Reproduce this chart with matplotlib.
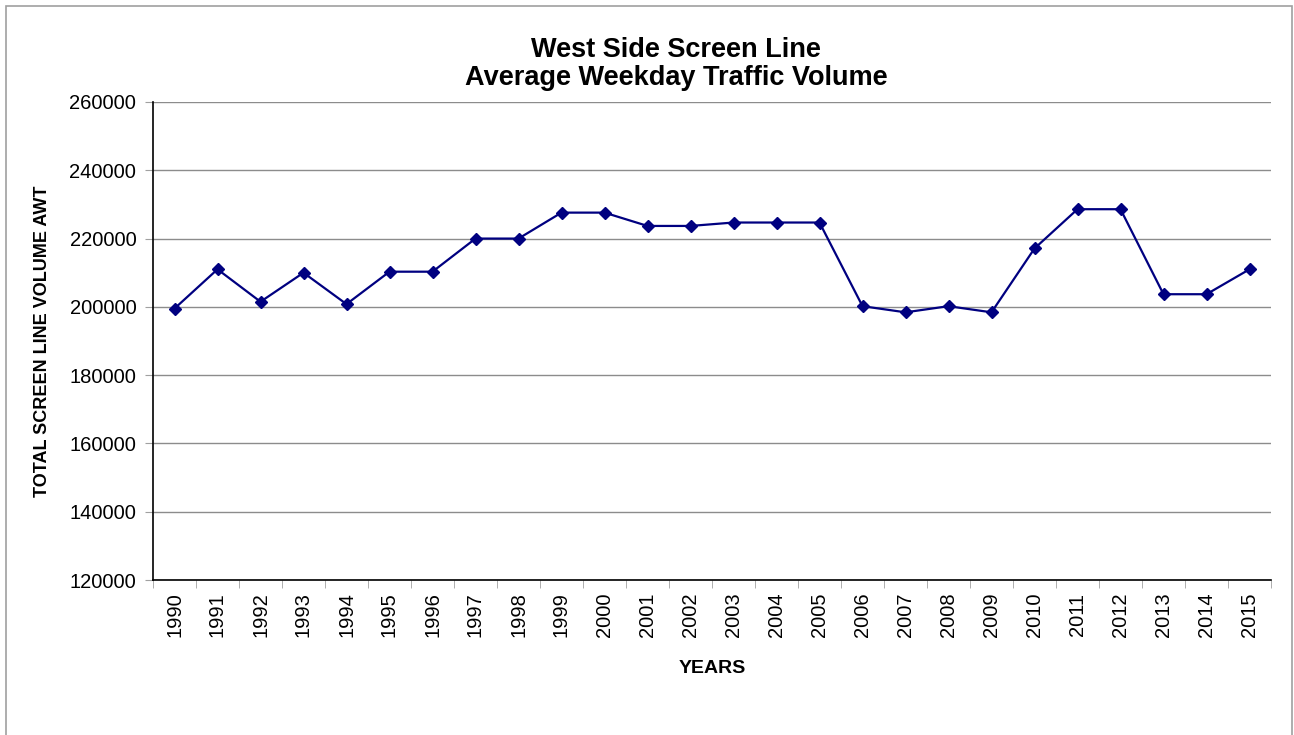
import matplotlib
matplotlib.use("Agg")
import matplotlib.pyplot as plt
from matplotlib.patches import Rectangle
import numpy as np

plt.rcParams['font.family'] = ['Liberation Sans', 'DejaVu Sans']

years = [str(y) for y in range(1990, 2016)]
volume = [199500, 211000, 201500, 210000, 200800, 210300, 210300, 220000, 220000,
          227600, 227600, 223700, 223700, 224700, 224700, 224700, 200200, 198400,
          200200, 198400, 217100, 228600, 228600, 203700, 203700, 211000]
yticks = list(range(120000, 260001, 20000))

W, H = 1294, 735
fig = plt.figure(figsize=(W / 100, H / 100), dpi=100)
ax = fig.add_axes([153 / W, 1 - 580 / H, (1271 - 153) / W, (580 - 102) / H])

# outer chart border (bottom edge falls outside the image)
fig.patches.append(Rectangle((6 / W, 1 - 745 / H), 1286 / W, 739 / H, transform=fig.transFigure,
                             fill=False, edgecolor="#a0a0a0", linewidth=1.2))

x = np.arange(len(years))
ax.plot(x, volume, color="#000080", linewidth=1.6, marker="D", markersize=6.5, zorder=3)

ax.set_xlim(-0.5, len(years) - 0.5)
ax.set_ylim(yticks[0], yticks[-1])
ax.set_yticks(yticks)
ax.set_yticklabels([str(v) for v in yticks], fontsize=14.5)
ax.set_xticks(x)
ax.set_xticklabels(years, rotation=90, fontsize=14.5)
ax.tick_params(axis="x", which="major", length=0, pad=9)
ax.set_xticks(np.arange(-0.5, len(years)), minor=True)
ax.tick_params(axis="x", which="minor", length=6, color="#a0a0a0")
ax.tick_params(axis="y", length=6, color="#a0a0a0", pad=6)

ax.grid(axis="y", color="#8c8c8c", linewidth=1)
ax.set_axisbelow(True)
for s in ["top", "right"]:
    ax.spines[s].set_visible(False)
for s in ["left", "bottom"]:
    ax.spines[s].set_color("black")
    ax.spines[s].set_linewidth(1.2)

ax.set_title("West Side Screen Line\nAverage Weekday Traffic Volume", fontsize=19.5,
             fontweight="bold", pad=12, linespacing=1.12, x=(676 - 153) / (1271 - 153))
ax.set_xlabel("YEARS", fontsize=14, fontweight="bold", labelpad=16)
ax.set_ylabel("TOTAL SCREEN LINE VOLUME AWT", fontsize=13, fontweight="bold", labelpad=13)

fig.savefig("out.png", dpi=100)
